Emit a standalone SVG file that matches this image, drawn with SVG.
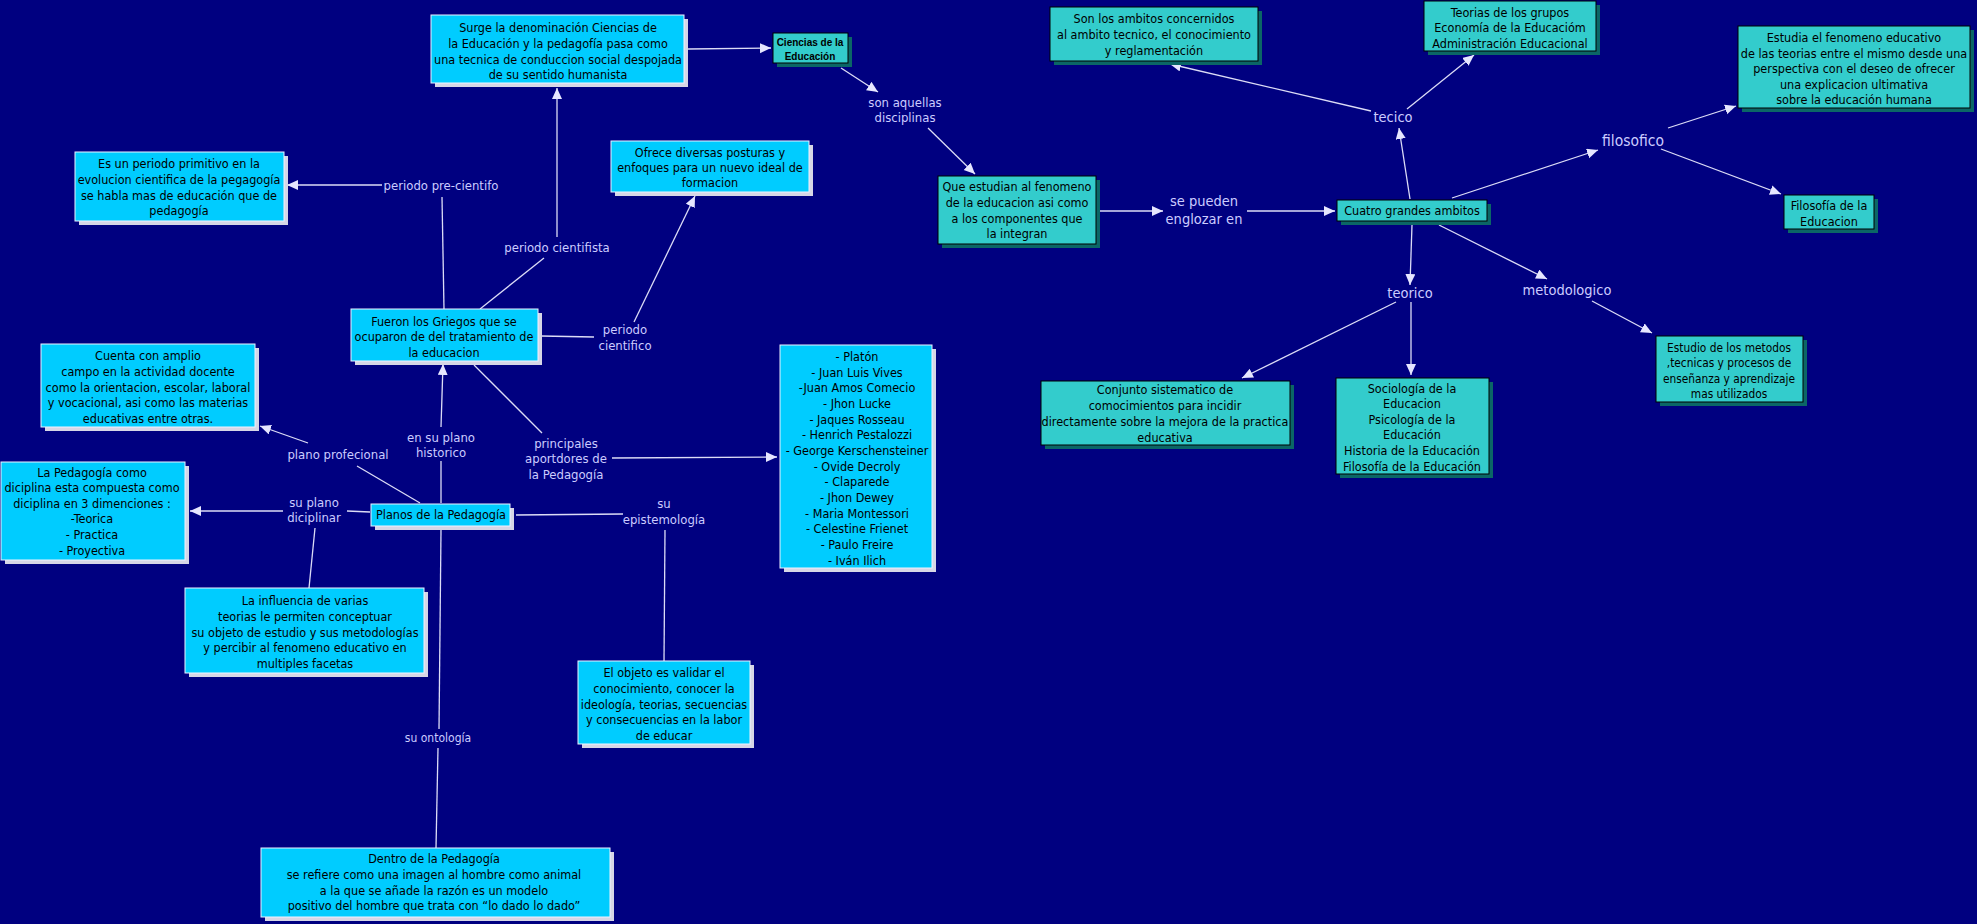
<svg xmlns="http://www.w3.org/2000/svg" width="1977" height="924" viewBox="0 0 1977 924">
<defs>
<marker id="ah" markerUnits="userSpaceOnUse" markerWidth="12" markerHeight="11" refX="11" refY="5" orient="auto">
<path d="M0,0 L11,5 L0,10 z" fill="#E6E6FF"/>
</marker>
<style>
.lb{fill:#00CCFF;stroke:#EEF2FF;stroke-width:1}
.lbs{fill:#D6D6E6}
.tl{fill:#33CCCC;stroke:#000;stroke-width:1}
.tls{fill:#0B6666}
text{font-family:"DejaVu Sans Condensed","Liberation Sans",sans-serif;text-anchor:middle}
.t{font-size:12.5px;fill:#000}
.ts{font-size:11.8px;fill:#000}
.cb{font-family:"Liberation Sans",sans-serif;font-size:10px;font-weight:bold;fill:#000}
.l{font-size:13px;fill:#CCCCFF}
.lg{font-size:14.5px;fill:#CCCCFF}
.lx{font-size:15.5px;fill:#CCCCFF}
.c line{stroke:#DCDCF6;stroke-width:1.3}
.c .a{marker-end:url(#ah)}
</style>
</defs>
<rect width="1977" height="924" fill="#000080"/>

<g id="connectors" class="c">
<line class="a" x1="688" y1="49" x2="771" y2="48"/>
<line class="a" x1="841" y1="68" x2="878" y2="92"/>
<line class="a" x1="928" y1="128" x2="975" y2="174"/>
<line class="a" x1="1100" y1="211" x2="1163" y2="211"/>
<line class="a" x1="1247" y1="211" x2="1335" y2="211"/>
<line class="a" x1="1410" y1="199" x2="1399" y2="128"/>
<line class="a" x1="1371" y1="111" x2="1170" y2="64"/>
<line class="a" x1="1407" y1="109" x2="1474" y2="55"/>
<line class="a" x1="1452" y1="198" x2="1598" y2="150"/>
<line class="a" x1="1668" y1="128" x2="1736" y2="106"/>
<line class="a" x1="1661" y1="149" x2="1781" y2="194"/>
<line class="a" x1="1412" y1="225" x2="1410" y2="285"/>
<line class="a" x1="1439" y1="225" x2="1547" y2="279"/>
<line class="a" x1="1396" y1="302" x2="1242" y2="378"/>
<line class="a" x1="1411" y1="302" x2="1411" y2="375"/>
<line class="a" x1="1592" y1="301" x2="1652" y2="333"/>
<line x1="444" y1="309" x2="442" y2="197"/>
<line class="a" x1="382" y1="185" x2="287" y2="185"/>
<line x1="480" y1="309" x2="544" y2="258"/>
<line class="a" x1="557" y1="237" x2="557" y2="88"/>
<line x1="541" y1="336" x2="594" y2="337"/>
<line class="a" x1="634" y1="322" x2="695" y2="196"/>
<line x1="441" y1="503" x2="441" y2="461"/>
<line class="a" x1="441" y1="427" x2="443" y2="364"/>
<line x1="474" y1="365" x2="542" y2="433"/>
<line class="a" x1="612" y1="458" x2="777" y2="457"/>
<line x1="420" y1="503" x2="357" y2="466"/>
<line class="a" x1="308" y1="443" x2="260" y2="426"/>
<line x1="370" y1="512" x2="347" y2="511"/>
<line class="a" x1="283" y1="511" x2="190" y2="511"/>
<line x1="315" y1="528" x2="309" y2="588"/>
<line x1="516" y1="515" x2="623" y2="514"/>
<line x1="665" y1="530" x2="664" y2="661"/>
<line x1="441" y1="530" x2="439" y2="729"/>
<line x1="438" y1="748" x2="436" y2="848"/>
</g>

<g id="n-surge">
<rect class="lbs" x="435" y="19" width="253" height="68"/>
<rect class="lb" x="431" y="15" width="253" height="68"/>
<text class="t"><tspan x="558" y="32">Surge la denominación Ciencias de</tspan><tspan x="558" y="48">la Educación y la pedagofía pasa como</tspan><tspan x="558" y="64">una tecnica de conduccion social despojada</tspan><tspan x="558" y="79">de su sentido humanista</tspan></text>
</g>

<g id="n-ciencias">
<rect class="tls" x="777" y="37" width="75" height="30"/>
<rect class="tl" x="773" y="33" width="75" height="30"/>
<text class="cb"><tspan x="810" y="45.5">Ciencias de la</tspan><tspan x="810" y="60">Educación</tspan></text>
</g>

<g id="n-sonlos">
<rect class="tls" x="1054" y="11" width="208" height="54"/>
<rect class="tl" x="1050" y="7" width="208" height="54"/>
<text class="t"><tspan x="1154" y="23">Son los ambitos concernidos</tspan><tspan x="1154" y="39">al ambito tecnico, el conocimiento</tspan><tspan x="1154" y="55">y reglamentación</tspan></text>
</g>

<g id="n-teorias">
<rect class="tls" x="1428" y="5" width="172" height="50"/>
<rect class="tl" x="1424" y="1" width="172" height="50"/>
<text class="t"><tspan x="1510" y="16.5">Teorias de los grupos</tspan><tspan x="1510" y="32">Economía de la Educacióm</tspan><tspan x="1510" y="47.5">Administración Educacional</tspan></text>
</g>

<g id="n-estudia">
<rect class="tls" x="1742" y="30" width="232" height="82"/>
<rect class="tl" x="1738" y="26" width="232" height="82"/>
<text class="t"><tspan x="1854" y="41.5">Estudia el fenomeno educativo</tspan><tspan x="1854" y="57.5">de las teorias entre el mismo desde una</tspan><tspan x="1854" y="73">perspectiva con el deseo de ofrecer</tspan><tspan x="1854" y="89">una explicacion ultimativa</tspan><tspan x="1854" y="104">sobre la educación humana</tspan></text>
</g>

<g id="n-filosofia">
<rect class="tls" x="1788" y="199" width="90" height="34"/>
<rect class="tl" x="1784" y="195" width="90" height="34"/>
<text class="t"><tspan x="1829" y="210">Filosofía de la</tspan><tspan x="1829" y="225.5">Educacion</tspan></text>
</g>

<g id="n-queestudian">
<rect class="tls" x="942" y="180" width="158" height="68"/>
<rect class="tl" x="938" y="176" width="158" height="68"/>
<text class="t"><tspan x="1017" y="190.5">Que estudian al fenomeno</tspan><tspan x="1017" y="207">de la educacion asi como</tspan><tspan x="1017" y="222.5">a los componentes que</tspan><tspan x="1017" y="238">la integran</tspan></text>
</g>

<g id="n-cuatro">
<rect class="tls" x="1341" y="204" width="150" height="21"/>
<rect class="tl" x="1337" y="200" width="150" height="21"/>
<text class="t" x="1412" y="215">Cuatro grandes ambitos</text>
</g>

<g id="n-conjunto">
<rect class="tls" x="1045" y="385" width="249" height="64"/>
<rect class="tl" x="1041" y="381" width="249" height="64"/>
<text class="t"><tspan x="1165" y="394">Conjunto sistematico de</tspan><tspan x="1165" y="410">comocimientos para incidir</tspan><tspan x="1165" y="426">directamente sobre la mejora de la practica</tspan><tspan x="1165" y="441.5">educativa</tspan></text>
</g>

<g id="n-sociologia">
<rect class="tls" x="1340" y="382" width="153" height="96"/>
<rect class="tl" x="1336" y="378" width="153" height="96"/>
<text class="t"><tspan x="1412" y="392.5">Sociología de la</tspan><tspan x="1412" y="408">Educacion</tspan><tspan x="1412" y="424">Psicología de la</tspan><tspan x="1412" y="439">Educación</tspan><tspan x="1412" y="455">Historia de la Educación</tspan><tspan x="1412" y="470.5">Filosofía de la Educación</tspan></text>
</g>

<g id="n-estudio">
<rect class="tls" x="1660" y="340" width="147" height="66"/>
<rect class="tl" x="1656" y="336" width="147" height="66"/>
<text class="ts"><tspan x="1729" y="351.5">Estudio de los metodos</tspan><tspan x="1729" y="367">,tecnicas y procesos de</tspan><tspan x="1729" y="383">enseñanza y aprendizaje</tspan><tspan x="1729" y="398">mas utilizados</tspan></text>
</g>

<g id="n-esun">
<rect class="lbs" x="79" y="156" width="209" height="69"/>
<rect class="lb" x="75" y="152" width="209" height="69"/>
<text class="t"><tspan x="179" y="168">Es un periodo primitivo en la</tspan><tspan x="179" y="184">evolucion cientifica de la pegagogía</tspan><tspan x="179" y="200">se habla mas de educación que de</tspan><tspan x="179" y="215">pedagogía</tspan></text>
</g>

<g id="n-ofrece">
<rect class="lbs" x="615" y="145" width="198" height="51"/>
<rect class="lb" x="611" y="141" width="198" height="51"/>
<text class="t"><tspan x="710" y="156.5">Ofrece diversas posturas y</tspan><tspan x="710" y="171.5">enfoques para un nuevo ideal  de</tspan><tspan x="710" y="187">formacion</tspan></text>
</g>

<g id="n-griegos">
<rect class="lbs" x="355" y="313" width="187" height="52"/>
<rect class="lb" x="351" y="309" width="187" height="52"/>
<text class="t"><tspan x="444" y="325.5">Fueron los Griegos que se</tspan><tspan x="444" y="341">ocuparon de del tratamiento de</tspan><tspan x="444" y="356.5">la educacion</tspan></text>
</g>

<g id="n-cuenta">
<rect class="lbs" x="45" y="348" width="214" height="83"/>
<rect class="lb" x="41" y="344" width="214" height="83"/>
<text class="t"><tspan x="148" y="360">Cuenta con amplio</tspan><tspan x="148" y="375.5">campo en la actividad docente</tspan><tspan x="148" y="391.5">como la orientacion, escolar, laboral</tspan><tspan x="148" y="407">y vocacional, asi como las materias</tspan><tspan x="148" y="422.5">educativas entre otras.</tspan></text>
</g>

<g id="n-pedagogia">
<rect class="lbs" x="5" y="466" width="184" height="98"/>
<rect class="lb" x="1" y="462" width="184" height="98"/>
<text class="t"><tspan x="92" y="476.5">La Pedagogía como</tspan><tspan x="92" y="492">diciplina esta compuesta como</tspan><tspan x="92" y="507.5">diciplina en 3 dimenciones :</tspan><tspan x="92" y="523">-Teorica</tspan><tspan x="92" y="539">- Practica</tspan><tspan x="92" y="554.5">- Proyectiva</tspan></text>
</g>

<g id="n-planos">
<rect class="lbs" x="375" y="508" width="139" height="22"/>
<rect class="lb" x="371" y="504" width="139" height="22"/>
<text class="t" x="441" y="519">Planos de la Pedagogía</text>
</g>

<g id="n-platon">
<rect class="lbs" x="784" y="349" width="152" height="223"/>
<rect class="lb" x="780" y="345" width="152" height="223"/>
<text class="t"><tspan x="857" y="361">- Platón</tspan><tspan x="857" y="376.7">- Juan Luis Vives</tspan><tspan x="857" y="392.3">-Juan Amos Comecio</tspan><tspan x="857" y="408">- Jhon Lucke</tspan><tspan x="857" y="423.7">- Jaques Rosseau</tspan><tspan x="857" y="439.3">- Henrich Pestalozzi</tspan><tspan x="857" y="455">- George Kerschensteiner</tspan><tspan x="857" y="470.7">- Ovide Decroly</tspan><tspan x="857" y="486.4">- Claparede</tspan><tspan x="857" y="502">- Jhon Dewey</tspan><tspan x="857" y="517.7">- Maria Montessori</tspan><tspan x="857" y="533.4">- Celestine Frienet</tspan><tspan x="857" y="549">- Paulo Freire</tspan><tspan x="857" y="564.7">- Iván Ilich</tspan></text>
</g>

<g id="n-influencia">
<rect class="lbs" x="189" y="592" width="239" height="85"/>
<rect class="lb" x="185" y="588" width="239" height="85"/>
<text class="t"><tspan x="305" y="605">La influencia de varias</tspan><tspan x="305" y="620.5">teorias le permiten conceptuar</tspan><tspan x="305" y="636.5">su objeto de estudio y sus metodologías</tspan><tspan x="305" y="652">y percibir al fenomeno educativo en</tspan><tspan x="305" y="667.5">multiples facetas</tspan></text>
</g>

<g id="n-objeto">
<rect class="lbs" x="582" y="665" width="172" height="83"/>
<rect class="lb" x="578" y="661" width="172" height="83"/>
<text class="t"><tspan x="664" y="677">El objeto es validar el</tspan><tspan x="664" y="693">conocimiento, conocer la</tspan><tspan x="664" y="708.5">ideología, teorias, secuencias</tspan><tspan x="664" y="724">y consecuencias en la labor</tspan><tspan x="664" y="740">de educar</tspan></text>
</g>

<g id="n-dentro">
<rect class="lbs" x="265" y="852" width="349" height="69"/>
<rect class="lb" x="261" y="848" width="349" height="69"/>
<text class="t"><tspan x="434" y="863">Dentro de la Pedagogía</tspan><tspan x="434" y="879">se refiere como una imagen al hombre como animal</tspan><tspan x="434" y="894.5">a la que se añade la razón es un modelo</tspan><tspan x="434" y="910">positivo del hombre que trata con “lo dado lo dado”</tspan></text>
</g>

<g id="labels">
<text class="l" x="441" y="190">periodo pre-cientifo</text>
<text class="l" x="557" y="252">periodo cientifista</text>
<text class="l"><tspan x="625" y="334">periodo</tspan><tspan x="625" y="350">cientifico</tspan></text>
<text class="l"><tspan x="441" y="441.5">en su plano</tspan><tspan x="441" y="457">historico</tspan></text>
<text class="l"><tspan x="566" y="447.5">principales</tspan><tspan x="566" y="463">aportdores de</tspan><tspan x="566" y="478.5">la Pedagogía</tspan></text>
<text class="l" x="338" y="459">plano profecional</text>
<text class="l"><tspan x="314" y="506.5">su plano</tspan><tspan x="314" y="522">diciplinar</tspan></text>
<text class="l"><tspan x="664" y="508">su</tspan><tspan x="664" y="524">epistemología</tspan></text>
<text class="l" style="font-size:12px" x="438" y="742">su ontología</text>
<text class="l"><tspan x="905" y="106.5">son aquellas</tspan><tspan x="905" y="121.5">disciplinas</tspan></text>
<text class="lg"><tspan x="1204" y="206">se pueden</tspan><tspan x="1204" y="224">englozar en</tspan></text>
<text class="lg" x="1393" y="122">tecico</text>
<text class="lx" x="1633" y="145.5">filosofico</text>
<text class="lg" x="1410" y="298">teorico</text>
<text class="lg" x="1567" y="294.5">metodologico</text>
</g>
</svg>
